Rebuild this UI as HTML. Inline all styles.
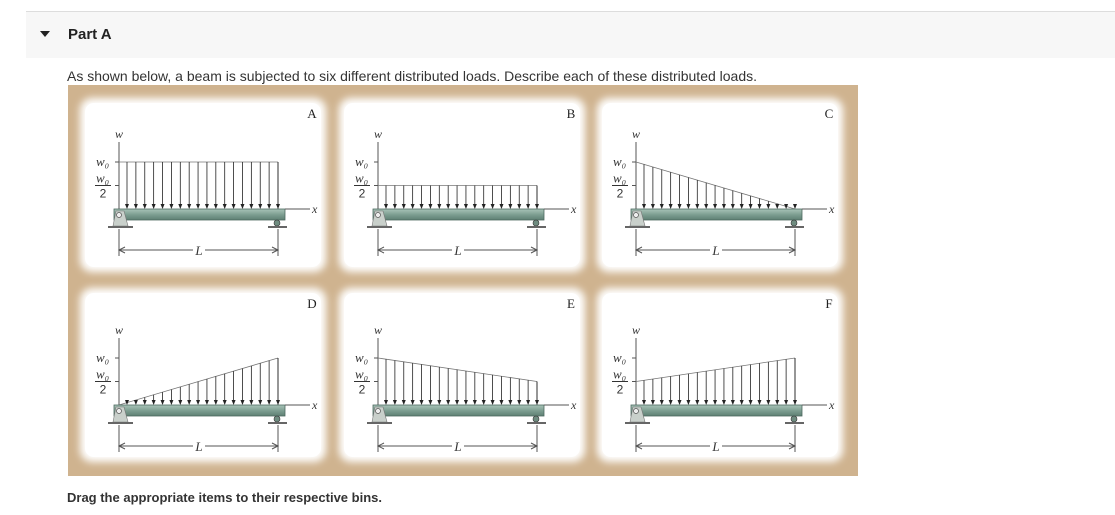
<!DOCTYPE html>
<html><head><meta charset="utf-8"><style>
body{margin:0;width:1115px;height:515px;background:#fff;font-family:"Liberation Sans",sans-serif;overflow:hidden;position:relative}
#hdr{position:absolute;left:26px;top:11px;width:1089px;height:46px;background:#f7f7f7;border-top:1px solid #ddd}
#tri{position:absolute;left:40px;top:31px;width:0;height:0;border-left:5px solid transparent;border-right:5px solid transparent;border-top:6px solid #222}
#parta{position:absolute;left:68px;top:26px;font-size:15px;font-weight:bold;color:#222}
#desc{position:absolute;left:67px;top:68px;font-size:14px;color:#333}
#drag{position:absolute;left:67px;top:490px;font-size:13px;font-weight:bold;color:#333}
svg{position:absolute;left:0;top:0}
</style></head><body>
<div id="hdr"></div>
<div id="tri"></div>
<div id="parta">Part A</div>
<div id="desc">As shown below, a beam is subjected to six different distributed loads. Describe each of these distributed loads.</div>
<div id="drag">Drag the appropriate items to their respective bins.</div>
<svg id="fig" width="1115" height="515">
<defs><filter id="blur" x="-10%" y="-10%" width="120%" height="120%"><feGaussianBlur stdDeviation="4"/></filter>
<linearGradient id="bm" x1="0" y1="0" x2="0" y2="1"><stop offset="0" stop-color="#a9c4b8"/><stop offset="0.5" stop-color="#7e9f92"/><stop offset="1" stop-color="#5e7f73"/></linearGradient></defs>
<rect x="68" y="85" width="790" height="391" fill="#cfb38f"/>
</svg>
<script>
const panelLabels=["A","B","C","D","E","F"];
const loadStart=[1,0.5,1,0,1,0.5];
const loadEnd=[1,0.5,0,1,0.5,1];
const NS="http://www.w3.org/2000/svg";
const svg=document.getElementById('fig');
function mk(tag,attrs,parent){const e=document.createElementNS(NS,tag);for(const k in attrs)e.setAttribute(k,attrs[k]);(parent||svg).appendChild(e);return e;}
const colX=[0,259,517], rowY=[0,196], cardRowY=[0,190];
const W0=47, x0=119, x1=278, nArrows=18;
function yScale(v,base){return base-v*W0;}
function xScale(t){return x0+t*(x1-x0);}
panelLabels.forEach((lab,i)=>{
  const dx=colX[i%3], dy=rowY[Math.floor(i/3)], cdy=cardRowY[Math.floor(i/3)];
  const cg=mk('g',{transform:`translate(${dx},${cdy})`});
  
  
  mk('rect',{x:80,y:98,width:246,height:174,rx:12,fill:'#fff',filter:'url(#blur)'},cg);
  mk('rect',{x:85,y:103,width:236,height:164,rx:9,fill:'#fff'},cg);
  const t=mk('text',{x:312,y:118,'font-family':'Liberation Serif,serif','font-size':13,'text-anchor':'middle',fill:'#222'},cg);t.textContent=lab;
  
  
  const g=mk('g',{transform:`translate(${dx},${dy})`});
  
  
  const base=209;
  mk('line',{x1:x0,y1:base,x2:x0,y2:142,stroke:'#555','stroke-width':1},g);
  mk('line',{x1:x0-4,y1:yScale(1,base),x2:x0,y2:yScale(1,base),stroke:'#555'},g);
  mk('line',{x1:x0-4,y1:yScale(0.5,base),x2:x0,y2:yScale(0.5,base),stroke:'#555'},g);
  let e=mk('text',{x:x0,y:138,'font-family':'Liberation Serif,serif','font-style':'italic','font-size':12,'text-anchor':'middle',fill:'#333'},g);e.textContent='w';
  e=mk('text',{x:96,y:yScale(1,base)+4,'font-family':'Liberation Serif,serif','font-style':'italic','font-size':13,fill:'#333'},g);e.textContent='w₀';
  e=mk('text',{x:96,y:yScale(0.5,base)-3,'font-family':'Liberation Serif,serif','font-style':'italic','font-size':13,fill:'#333'},g);e.textContent='w₀';
  mk('line',{x1:95,y1:yScale(0.5,base),x2:111,y2:yScale(0.5,base),stroke:'#333'},g);
  e=mk('text',{x:103,y:yScale(0.5,base)+12,'font-family':'Liberation Sans,sans-serif','font-size':12,'text-anchor':'middle',fill:'#333'},g);e.textContent='2';
  const ld=mk('line',{x1:x0,y1:yScale(loadStart[i],base),x2:x1,y2:yScale(loadEnd[i],base),stroke:'#777','stroke-width':0.8},g);
  
  
  if(loadEnd[i]>0) mk('line',{x1:x1,y1:yScale(loadEnd[i],base),x2:x1,y2:base,stroke:'#333','stroke-width':0.8},g);
  for(let k=0;k<nArrows;k++){
    const ax=127+k*(x1-127)/(nArrows-1);
    const tt=(ax-x0)/(x1-x0);
    const v=loadStart[i]+(loadEnd[i]-loadStart[i])*tt;
    const top=yScale(v,base);
    if(base-top>5) mk('line',{x1:ax,y1:top,x2:ax,y2:base-3,stroke:'#222','stroke-width':0.8},g);
    const ar=mk('path',{d:`M${ax-2},${base-5} L${ax+2},${base-5} L${ax},${base} Z`,fill:'#222'},g);
    
    
  }
  const bm=mk('rect',{x:114,y:base,width:171,height:11,fill:'url(#bm)',stroke:'#4d6a60','stroke-width':0.8},g);
  
  
  mk('line',{x1:285,y1:base,x2:310,y2:base,stroke:'#555'},g);
  e=mk('text',{x:312,y:base+4,'font-family':'Liberation Serif,serif','font-style':'italic','font-size':12,fill:'#333'},g);e.textContent='x';
  mk('path',{d:`M113,${base+17} L116,${base+2} L124,${base+2} L128,${base+17} Z`,fill:'#c9d0cb',stroke:'#777','stroke-width':0.6},g);
  mk('circle',{cx:119,cy:base+6,r:2.5,fill:'#eee',stroke:'#555','stroke-width':0.7},g);
  mk('rect',{x:108,y:base+17,width:25,height:2,fill:'#666'},g);
  mk('circle',{cx:277,cy:base+14,r:3,fill:'#6f8c80',stroke:'#333','stroke-width':0.6},g);
  mk('rect',{x:268,y:base+17,width:19,height:2,fill:'#666'},g);
  mk('line',{x1:x0,y1:base+20,x2:x0,y2:base+47,stroke:'#555'},g);
  mk('line',{x1:x1,y1:base+20,x2:x1,y2:base+47,stroke:'#555'},g);
  mk('line',{x1:x0,y1:base+41,x2:193,y2:base+41,stroke:'#555'},g);
  mk('line',{x1:205,y1:base+41,x2:x1,y2:base+41,stroke:'#555'},g);
  mk('path',{d:`M${x0+6},${base+38} L${x0},${base+41} L${x0+6},${base+44}`,fill:'none',stroke:'#555'},g);
  mk('path',{d:`M${x1-6},${base+38} L${x1},${base+41} L${x1-6},${base+44}`,fill:'none',stroke:'#555'},g);
  e=mk('text',{x:199,y:base+46,'font-family':'Liberation Serif,serif','font-style':'italic','font-size':13,'text-anchor':'middle',fill:'#333'},g);e.textContent='L';
});
</script>
</body></html>
